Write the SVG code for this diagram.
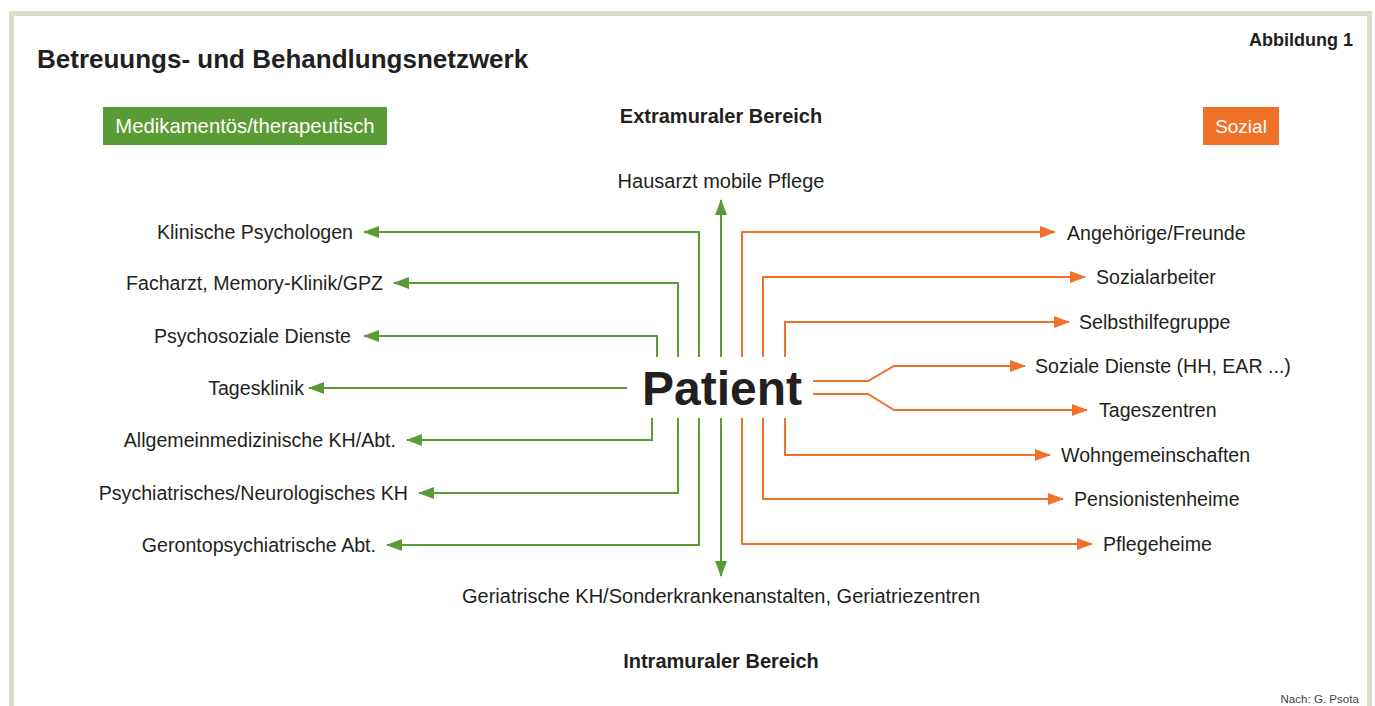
<svg xmlns="http://www.w3.org/2000/svg" width="1375" height="706" viewBox="0 0 1375 706">
<style>
text{font-family:"Liberation Sans",Arial,sans-serif;fill:#231f20}
.lbl{font-size:19.6px}
.l{text-anchor:end}
.c{text-anchor:middle}
.b{font-weight:bold}
.g{fill:none;stroke:#5b9b35;stroke-width:2}
.o{fill:none;stroke:#f07128;stroke-width:2}
</style>
<defs>
<marker id="ag" markerUnits="userSpaceOnUse" markerWidth="16" markerHeight="12" viewBox="0 0 16 12" refX="15" refY="6" orient="auto"><path d="M0,0 L16,6 L0,12 z" fill="#5b9b35"/></marker>
<marker id="ao" markerUnits="userSpaceOnUse" markerWidth="16" markerHeight="12" viewBox="0 0 16 12" refX="15" refY="6" orient="auto"><path d="M0,0 L16,6 L0,12 z" fill="#f07128"/></marker>
</defs>
<rect x="0" y="0" width="1375" height="706" fill="#fff"/>
<rect x="11.5" y="13.5" width="1358" height="720" fill="none" stroke="#dcdccb" stroke-width="5"/>
<text x="37" y="68" class="b" font-size="26">Betreuungs- und Behandlungsnetzwerk</text>
<text x="1353" y="46" class="b l" font-size="18">Abbildung 1</text>
<g id="legend-med"><rect x="103" y="107" width="284" height="38" fill="#5b9b35"/><text x="245" y="133" class="c" font-size="20.3" style="fill:#fff">Medikamentös/therapeutisch</text></g>
<g id="legend-soz"><rect x="1203" y="107" width="76" height="38" fill="#f07128"/><text x="1241" y="133" class="c" font-size="19" style="fill:#fff">Sozial</text></g>
<text x="721" y="123" class="b c" font-size="20">Extramuraler Bereich</text>
<text x="721" y="668" class="b c" font-size="20">Intramuraler Bereich</text>
<text x="1359" y="703" class="l" font-size="11.6" style="fill:#444">Nach: G. Psota</text>
<g id="connectors">
<path class="g" d="M721,357 V200" marker-end="url(#ag)"/>
<path class="g" d="M721,418 V576" marker-end="url(#ag)"/>
<path class="g" d="M699,357 V232 H364" marker-end="url(#ag)"/>
<path class="g" d="M678,357 V283 H394" marker-end="url(#ag)"/>
<path class="g" d="M657,357 V336 H364" marker-end="url(#ag)"/>
<path class="g" d="M627,388 H309" marker-end="url(#ag)"/>
<path class="g" d="M652,418 V440 H407" marker-end="url(#ag)"/>
<path class="g" d="M678,418 V493 H419" marker-end="url(#ag)"/>
<path class="g" d="M699,418 V545 H387" marker-end="url(#ag)"/>
<path class="o" d="M742,357 V232 H1055" marker-end="url(#ao)"/>
<path class="o" d="M763,357 V277 H1085" marker-end="url(#ao)"/>
<path class="o" d="M785,357 V322 H1069" marker-end="url(#ao)"/>
<path class="o" d="M813,381 H868 L894,366 H1025" marker-end="url(#ao)"/>
<path class="o" d="M813,394 H868 L894,410 H1087" marker-end="url(#ao)"/>
<path class="o" d="M785,418 V455 H1050" marker-end="url(#ao)"/>
<path class="o" d="M763,418 V499 H1063" marker-end="url(#ao)"/>
<path class="o" d="M742,418 V544 H1092" marker-end="url(#ao)"/>
</g>
<g id="patient"><text x="722" y="405" class="b c" font-size="48">Patient</text></g>
<g id="hausarzt"><text x="721" y="188" class="c" font-size="20">Hausarzt mobile Pflege</text></g>
<g id="geriatrie"><text x="721" y="603" class="c" font-size="20">Geriatrische KH/Sonderkrankenanstalten, Geriatriezentren</text></g>
<g id="n-klin"><text x="353" y="239" class="lbl l">Klinische Psychologen</text></g>
<g id="n-fach"><text x="383" y="290" class="lbl l">Facharzt, Memory-Klinik/GPZ</text></g>
<g id="n-psdi"><text x="351" y="343" class="lbl l">Psychosoziale Dienste</text></g>
<g id="n-tages"><text x="304" y="395" class="lbl l">Tagesklinik</text></g>
<g id="n-allg"><text x="396" y="447" class="lbl l">Allgemeinmedizinische KH/Abt.</text></g>
<g id="n-psych"><text x="408" y="500" class="lbl l">Psychiatrisches/Neurologisches KH</text></g>
<g id="n-geronto"><text x="376" y="552" class="lbl l">Gerontopsychiatrische Abt.</text></g>
<g id="n-ang"><text x="1067" y="240" class="lbl">Angehörige/Freunde</text></g>
<g id="n-sozarb"><text x="1096" y="284" class="lbl">Sozialarbeiter</text></g>
<g id="n-selbst"><text x="1079" y="329" class="lbl">Selbsthilfegruppe</text></g>
<g id="n-sozdi"><text x="1035" y="373" class="lbl">Soziale Dienste (HH, EAR ...)</text></g>
<g id="n-tz"><text x="1099" y="417" class="lbl">Tageszentren</text></g>
<g id="n-wg"><text x="1061" y="462" class="lbl">Wohngemeinschaften</text></g>
<g id="n-pens"><text x="1074" y="506" class="lbl">Pensionistenheime</text></g>
<g id="n-pfl"><text x="1103" y="551" class="lbl">Pflegeheime</text></g>
</svg>
